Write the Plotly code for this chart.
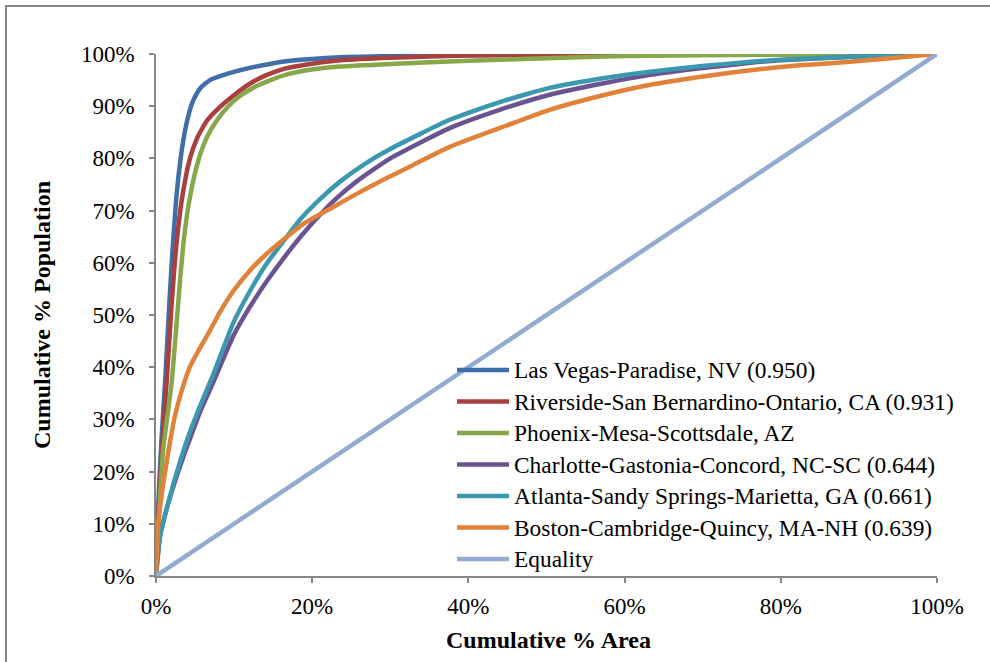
import plotly.graph_objects as go

# ---------------- data (cumulative % area -> cumulative % population) -------------
lv_x = [0, 0.3, 0.7, 1.2, 1.7, 2.1, 2.7, 3.5, 4.2, 4.8, 5.7, 6.9, 8.5, 10.8, 13.5, 17.2, 23.6, 30, 40, 60, 100]
lv_y = [0, 14, 26, 38, 52, 62, 74, 83.5, 88.5, 91.2, 93.5, 95, 95.9, 96.9, 97.8, 98.7, 99.4, 99.6, 99.8, 99.95, 100]

rv_x = [0, 0.35, 0.8, 1.4, 2.0, 2.65, 3.4, 4.35, 5.3, 6.5, 8.0, 9.9, 12, 14.2, 16.5, 19.3, 23.6, 30, 40, 60, 100]
rv_y = [0, 13, 25, 38, 52, 64, 73, 80.0, 84.0, 87.2, 89.6, 92.0, 94.3, 96.0, 97.2, 98.0, 98.8, 99.3, 99.7, 99.95, 100]

px_x = [0, 0.4, 0.9, 2.0, 3.1, 3.6, 4.4, 5.4, 6.5, 7.8, 9.2, 10.8, 12.8, 15, 17, 19.3, 23.6, 30, 40, 50, 60, 80, 100]
px_y = [0, 12, 24, 37, 57, 65, 73, 79.5, 84, 87.3, 89.9, 92.0, 93.8, 95.2, 96.2, 96.9, 97.6, 98.1, 98.7, 99.2, 99.6, 99.9, 100]

ch_x = [0, 0.5, 1.3, 2.3, 3.3, 4.4, 5.8, 7.3, 9.9, 12, 14.2, 16.5, 18.4, 20.5, 23, 25.7, 30, 37.6, 44, 50.4, 57, 63.3, 70, 76.1, 80, 90, 100]
ch_y = [0, 7.5, 12.5, 17.5, 22, 26.5, 32, 37, 46, 51.5, 56.5, 61.2, 64.8, 68.4, 72.2, 75.6, 80, 85.8, 89.3, 92.2, 94.3, 96, 97.3, 98.3, 98.8, 99.5, 100]

at_x = [0, 0.5, 1.3, 2.2, 3.2, 4.2, 5.6, 7.3, 9.9, 12, 14.2, 16.5, 18.4, 21, 23.6, 27, 30, 37.6, 44, 50.4, 57, 63.3, 70, 76.1, 80, 90, 100]
at_y = [0, 7.5, 12.5, 17.5, 22.5, 27, 32.4, 38.5, 48.5, 54.5, 59.9, 64.5, 68.2, 72.2, 75.6, 79.2, 81.8, 87.4, 90.8, 93.5, 95.3, 96.6, 97.7, 98.5, 98.9, 99.5, 100]

bo_x = [0, 0.2, 0.5, 0.94, 1.6, 2.4, 3.3, 4.35, 5.6, 6.9, 8.2, 9.9, 12, 14, 16.3, 19, 22.7, 25.8, 29.1, 33, 37.6, 44, 50.4, 57, 63.3, 70, 76.1, 82, 88.9, 94, 100]
bo_y = [0, 8, 13, 17.8, 24, 30.5, 35.5, 40.1, 43.6, 47.0, 50.6, 54.6, 58.5, 61.5, 64.4, 67.6, 70.7, 73.3, 75.9, 78.8, 82.2, 85.8, 89.3, 92, 94.1, 95.7, 96.9, 97.8, 98.5, 99.2, 100]

eq_x = [0, 100]
eq_y = [0, 100]

names = [
    "Las Vegas-Paradise, NV (0.950)",
    "Riverside-San Bernardino-Ontario, CA (0.931)",
    "Phoenix-Mesa-Scottsdale, AZ",
    "Charlotte-Gastonia-Concord, NC-SC (0.644)",
    "Atlanta-Sandy Springs-Marietta, GA (0.661)",
    "Boston-Cambridge-Quincy, MA-NH (0.639)",
    "Equality",
]
xs = [lv_x, rv_x, px_x, ch_x, at_x, bo_x, eq_x]
ys = [lv_y, rv_y, px_y, ch_y, at_y, bo_y, eq_y]
colors = ["#3F6EA8", "#A9403E", "#87A84A", "#6B5392", "#3B98AF", "#E0823A", "#92ABD2"]

x_ticks = [0, 20, 40, 60, 80, 100]
y_ticks = [0, 10, 20, 30, 40, 50, 60, 70, 80, 90, 100]

x_title = "Cumulative % Area"
y_title = "Cumulative % Population"

# ---------------- layout geometry ----------------
W, H = 990, 662
L, R, T, B = 156, 53, 54, 86
pw, ph = W - L - R, H - T - B

def pxx(p):
    return (p - L) / pw

def pxy(p):
    return (H - B - p) / ph

FONT = "Liberation Serif"
AX = "#868686"

fig = go.Figure()
for x, y, n, c in zip(xs, ys, names, colors):
    fig.add_trace(go.Scatter(x=x, y=y, name=n, mode="lines",
                             line=dict(color=c, width=4.5, shape="spline", smoothing=0.5),
                             cliponaxis=False, showlegend=False))

shapes = []
annotations = []
# outer chart border
shapes.append(dict(type="rect", xref="paper", yref="paper",
                   x0=pxx(6), x1=pxx(1010), y0=pxy(6), y1=pxy(700),
                   line=dict(color=AX, width=2), fillcolor="rgba(0,0,0,0)"))

# manual legend
leg_y0, leg_dy = 370, 31.5
for i, (n, c) in enumerate(zip(names, colors)):
    yy = leg_y0 + i * leg_dy
    shapes.append(dict(type="line", xref="paper", yref="paper",
                       x0=pxx(457), x1=pxx(509), y0=pxy(yy), y1=pxy(yy),
                       line=dict(color=c, width=4.5)))
    annotations.append(dict(xref="paper", yref="paper", x=pxx(512), y=pxy(yy),
                            xanchor="left", yanchor="middle", showarrow=False,
                            text=n, font=dict(family=FONT, size=23.4, color="black")))

annotations.append(dict(xref="paper", yref="paper", x=pxx(548), y=pxy(640),
                        xanchor="center", yanchor="middle", showarrow=False,
                        text="<b>%s</b>" % x_title,
                        font=dict(family=FONT, size=24, color="black")))
annotations.append(dict(xref="paper", yref="paper", x=pxx(42), y=pxy(315),
                        xanchor="center", yanchor="middle", showarrow=False,
                        textangle=-90, text="<b>%s</b>" % y_title,
                        font=dict(family=FONT, size=24, color="black")))

fig.update_layout(
    width=W, height=H,
    margin=dict(l=L, r=R, t=T, b=B, pad=0),
    paper_bgcolor="white", plot_bgcolor="white",
    font=dict(family=FONT, size=23, color="black"),
    shapes=shapes, annotations=annotations,
    showlegend=False,
    xaxis=dict(range=[0, 100], tickvals=x_ticks, ticktext=["%d%%" % v for v in x_ticks],
               showgrid=False, zeroline=False, showline=True, linecolor=AX, linewidth=1.5,
               ticks="outside", ticklen=5, tickcolor=AX, tickwidth=1.5,
               ticklabelstandoff=4, tickfont=dict(family=FONT, size=23, color="black")),
    yaxis=dict(range=[0, 100], tickvals=y_ticks, ticktext=["%d%%" % v for v in y_ticks],
               showgrid=False, zeroline=False, showline=True, linecolor=AX, linewidth=1.5,
               ticks="outside", ticklen=5, tickcolor=AX, tickwidth=1.5,
               ticklabelstandoff=10, tickfont=dict(family=FONT, size=23, color="black")),
)

fig.write_html("out.html")
